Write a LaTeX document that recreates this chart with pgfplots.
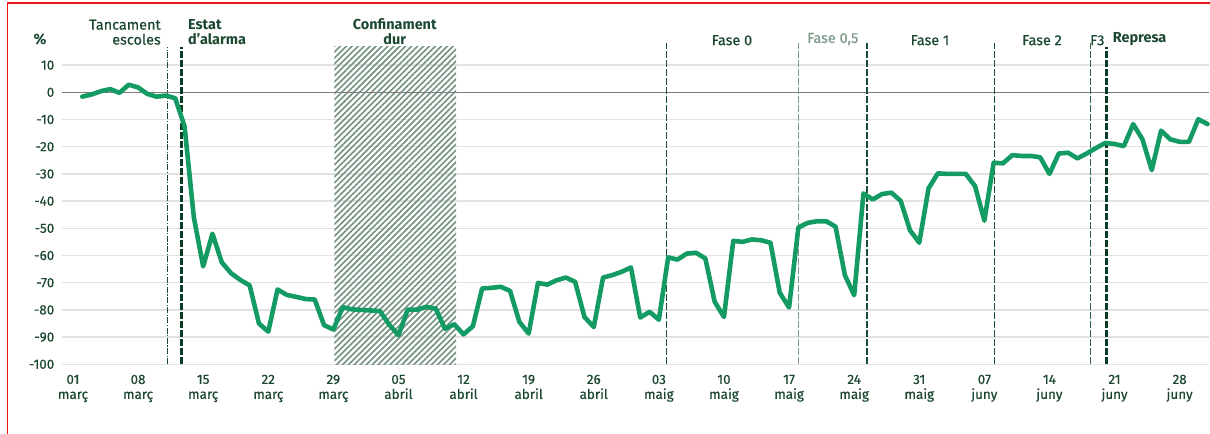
\documentclass[border=0pt]{standalone}
\usepackage{fontspec}
\setmainfont{Fira Sans}
\newfontfamily\medfont{Fira Sans}[FakeBold=0.5]
\usepackage{pgfplots}
\pgfplotsset{compat=1.18}
\usetikzlibrary{patterns.meta}

\definecolor{linegreen}{RGB}{20,155,100}
\definecolor{txtgreen}{RGB}{28,72,48}
\definecolor{darkline}{RGB}{10,60,35}
\definecolor{midline}{RGB}{25,80,52}
\definecolor{lightline}{RGB}{125,155,138}
\definecolor{hatchc}{RGB}{115,145,128}
\definecolor{gridgray}{RGB}{226,226,226}
\definecolor{zerogray}{RGB}{125,125,125}
\definecolor{framered}{RGB}{235,20,20}

\pgfplotstableread{
d v
1 -1.6
2 -0.8
3 0.4
4 1.2
5 -0.2
6 2.8
7 1.8
8 -0.6
9 -1.6
10 -1.2
11 -2.2
12 -12.5
13 -46
14 -64
15 -52
16 -62.5
17 -66.5
18 -69
19 -71
20 -85
21 -88
22 -72.5
23 -74.5
24 -75.2
25 -76
26 -76.2
27 -85.6
28 -87.2
29 -79
30 -79.8
31 -80
32 -80.2
33 -80.4
34 -85.4
35 -89.3
36 -79.9
37 -79.9
38 -78.9
39 -79.5
40 -86.9
41 -85.3
42 -89
43 -86
44 -72.1
45 -71.9
46 -71.5
47 -73
48 -84.4
49 -88.7
50 -70.1
51 -70.7
52 -69.1
53 -68.1
54 -69.7
55 -82.6
56 -86.3
57 -68.1
58 -67.2
59 -66
60 -64.4
61 -82.8
62 -80.7
63 -83.6
64 -60.7
65 -61.5
66 -59.3
67 -59
68 -61.1
69 -77
70 -82.6
71 -54.6
72 -55
73 -54.1
74 -54.4
75 -55.3
76 -73.7
77 -79.1
78 -49.7
79 -48
80 -47.4
81 -47.4
82 -49.4
83 -67.2
84 -74.6
85 -37.2
86 -39.4
87 -37.4
88 -36.9
89 -39.9
90 -50.7
91 -55.3
92 -35.3
93 -29.8
94 -30
95 -30
96 -30
97 -34.5
98 -47.2
99 -25.9
100 -26.1
101 -23.1
102 -23.4
103 -23.4
104 -23.9
105 -30
106 -22.5
107 -22.2
108 -24.3
109 -22.5
110 -20.5
111 -18.6
112 -19
113 -19.8
114 -11.7
115 -17.3
116 -28.6
117 -14.1
118 -17.3
119 -18.2
120 -18.2
121 -9.9
122 -11.7
}\mobilitat

\begin{document}
\begin{tikzpicture}
\path[use as bounding box] (0bp,0bp) rectangle (1210bp,434bp);
\draw[framered, line width=1.8bp] (7.5bp,0bp) -- (7.5bp,430.7bp) -- (1210bp,430.7bp);
\begin{axis}[
  scale only axis, width=1146.7bp, height=322.3bp,
  at={(61.8bp,69.7bp)}, anchor=south west,
  xmin=-1.2, xmax=122.1, ymin=-100, ymax=18.5,
  clip=false,
  axis line style={draw=none}, tick style={draw=none},
  ytick={-100,-90,...,10},
  yticklabels={-100,-90,-80,-70,-60,-50,-40,-30,-20,-10,0,10},
  ymajorgrids, grid style={gridgray, line width=1.3bp},
  xtick={0,7,...,119},
  xticklabels={{01\\març},{08\\març},{15\\març},{22\\març},{29\\març},
    {05\\abril},{12\\abril},{19\\abril},{26\\abril},{03\\maig},{10\\maig},
    {17\\maig},{24\\maig},{31\\maig},{07\\juny},{14\\juny},{21\\juny},{28\\juny}},
  xticklabel style={align=center, text=txtgreen, font=\medfont\fontsize{13.5}{15}\selectfont, yshift=-7bp},
  yticklabel style={text=txtgreen, font=\medfont\fontsize{13.5}{15}\selectfont, xshift=-4bp},
]
% hatched period
\addplot[draw=none, pattern={Lines[angle=45,distance=4.2bp,line width=1.6bp]}, pattern color=hatchc]
  coordinates {(28.1,-100)(28.1,16.7)(41.2,16.7)(41.2,-100)(28.1,-100)};
\addplot[zerogray, line width=1bp] coordinates {(-1.2,0)(122.1,0)};
% event lines
\addplot[txtgreen, line width=1.3bp, dash pattern=on 6bp off 1.5bp on 1.2bp off 1.5bp] coordinates {(10.2,-100)(10.2,16.8)};
\addplot[darkline, line width=2.6bp, dash pattern=on 7bp off 2bp] coordinates {(11.7,-100)(11.7,16.8)};
\addplot[midline, line width=1.5bp, dash pattern=on 7bp off 2bp] coordinates {(63.8,-100)(63.8,18.2)};
\addplot[lightline, line width=1.3bp, dash pattern=on 7bp off 2bp] coordinates {(78.0,-100)(78.0,18.2)};
\addplot[midline, line width=1.5bp, dash pattern=on 7bp off 2bp] coordinates {(85.4,-100)(85.4,18.2)};
\addplot[midline, line width=1.5bp, dash pattern=on 7bp off 2bp] coordinates {(99.1,-100)(99.1,18.2)};
\addplot[midline!75!lightline, line width=1.5bp, dash pattern=on 7bp off 2bp] coordinates {(109.4,-100)(109.4,18.2)};
\addplot[darkline, line width=2.8bp, dash pattern=on 7bp off 2bp] coordinates {(111.1,-100)(111.1,16.8)};
% data
\addplot[linegreen, line width=4.6bp, line join=round, line cap=round] table[x=d,y=v] {\mobilitat};
% labels
\begin{scope}[every node/.style={inner sep=0pt, text=txtgreen, font=\medfont\fontsize{14.5}{15}\selectfont}]
\node[anchor=south east, align=right] at (axis cs:9.46,17.4) {Tancament\\escoles};
\node[anchor=south west, align=left, font=\fontsize{14.5}{15}\selectfont\bfseries] at (axis cs:12.37,17.4) {Estat\\d'alarma};
\node[anchor=south, align=center, font=\fontsize{14.5}{15}\selectfont\bfseries] at (axis cs:34.6,17.4) {Confinament\\dur};
\node[anchor=south] at (axis cs:70.86,17.2) {Fase 0};
\node[anchor=south, text=lightline] at (axis cs:81.7,17.2) {Fase 0,5};
\node[anchor=south] at (axis cs:92.15,17.2) {Fase 1};
\node[anchor=south] at (axis cs:104.2,17.2) {Fase 2};
\node[anchor=south west] at (axis cs:109.35,17.2) {F3};
\node[anchor=south west, font=\fontsize{14.5}{15}\selectfont\bfseries] at (axis cs:111.8,17.2) {Represa};
\node[font=\fontsize{15}{15}\selectfont\bfseries] at (axis cs:-3.55,19.6) {\%};
\end{scope}
\end{axis}
\end{tikzpicture}
\end{document}
